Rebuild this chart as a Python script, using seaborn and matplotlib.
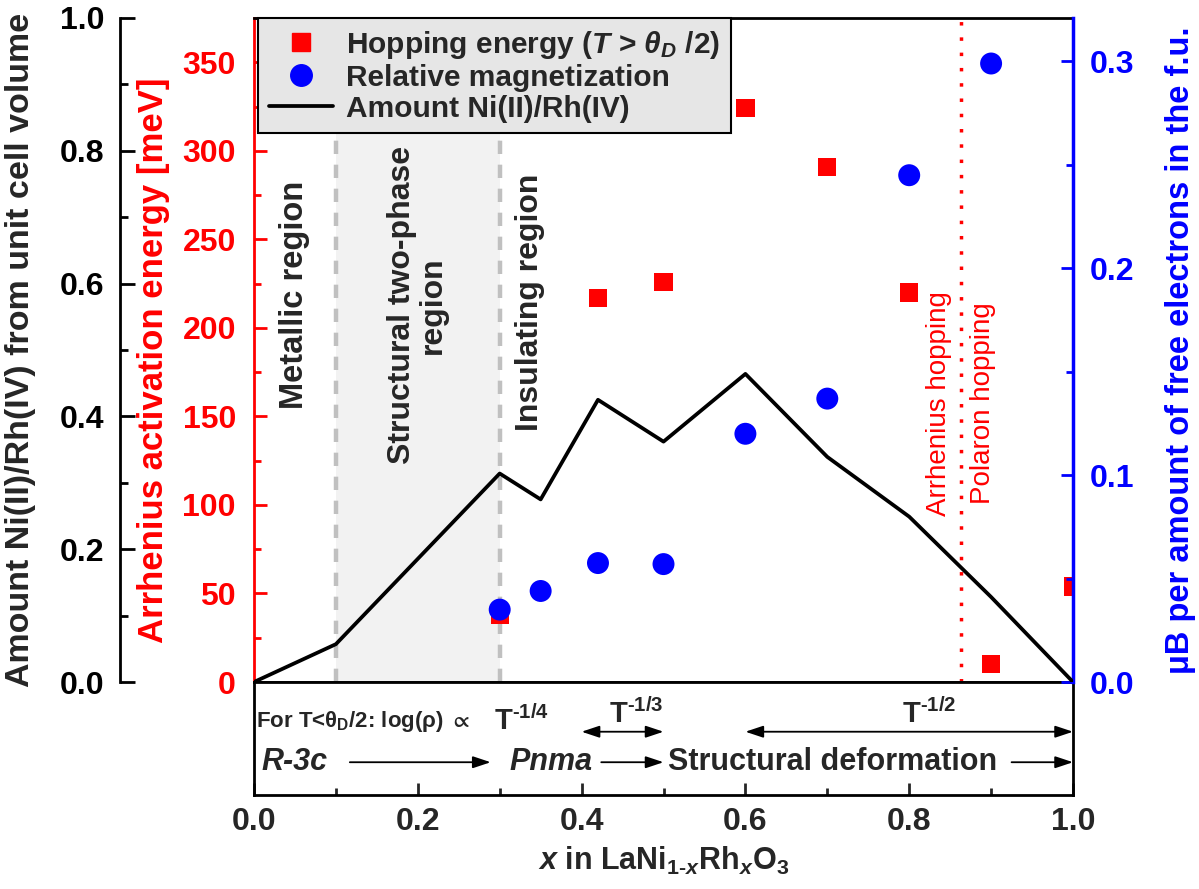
import matplotlib
matplotlib.use("Agg")
import matplotlib.pyplot as plt
from matplotlib.ticker import MultipleLocator
from matplotlib.lines import Line2D
import seaborn as sns

# Ni(II)/Rh(IV) amount from unit cell volume (left black axis)
x_amount = [0.0, 0.1, 0.3, 0.35, 0.42, 0.5, 0.6, 0.7, 0.8, 0.9, 1.0]
amount = [0.0, 0.057, 0.314, 0.275, 0.425, 0.362, 0.464, 0.339, 0.249, 0.128, 0.0]

# hopping (Arrhenius activation) energy in meV (red axis)
x_hop = [0.3, 0.42, 0.5, 0.6, 0.7, 0.8, 0.9, 1.0]
hop_energy = [38, 217, 226, 324, 291, 220, 10, 54]

# relative magnetization (blue axis)
x_mag = [0.3, 0.35, 0.42, 0.5, 0.6, 0.7, 0.8, 0.9]
magnetization = [0.035, 0.044, 0.0575, 0.057, 0.120, 0.137, 0.245, 0.299]

xtick_labels = ["0.0", "0.2", "0.4", "0.6", "0.8", "1.0"]

sns.set_theme(style="ticks")
plt.rcParams["font.family"] = ["Liberation Sans", "DejaVu Sans"]
plt.rcParams["font.weight"] = "bold"
plt.rcParams["mathtext.fontset"] = "custom"
plt.rcParams["mathtext.rm"] = "Liberation Sans:bold"
plt.rcParams["mathtext.bf"] = "Liberation Sans:bold"
plt.rcParams["mathtext.it"] = "Liberation Sans:italic:bold"
plt.rcParams["mathtext.fallback"] = "stixsans"

W, H = 1199, 889
fig = plt.figure(figsize=(W / 100, H / 100), dpi=100)
left = 254 / W
width = 819 / W
ax = fig.add_axes([left, (H - 682) / H, width, 664 / H])
axb = fig.add_axes([left, (H - 795) / H, width, 113 / H])
ax_blue = ax.twinx()
ax_black = ax.twinx()

# background regions and guide lines
ax.axvspan(0.1, 0.3, facecolor="#f2f2f2", edgecolor="none", zorder=0)
for xv in [0.1, 0.3]:
    ax.axvline(xv, color="#c0c0c0", lw=3.2, ls=(0, (3.0, 2.4)), zorder=1)
ax.axvline(0.863, color="red", lw=2.5, ls=(0, (1, 3.4)), zorder=1)

# data
sns.scatterplot(x=x_hop, y=hop_energy, ax=ax, marker="s", s=175, color="red",
                edgecolor="none", zorder=3)
sns.scatterplot(x=x_mag, y=magnetization, ax=ax_blue, marker="o", s=250,
                color="blue", edgecolor="none", zorder=3)
sns.lineplot(x=x_amount, y=amount, ax=ax_black, color="black", lw=2.7)

ax.set_xlim(0, 1)
ax.set_ylim(0, 375)
ax_blue.set_ylim(0, 0.321)
ax_black.set_ylim(0, 1)

TICK_FS = 23

# red axis (main left spine)
ax.yaxis.set_major_locator(MultipleLocator(50))
ax.yaxis.set_minor_locator(MultipleLocator(25))
ax.tick_params(axis="y", which="both", direction="in", colors="red", width=2,
               labelsize=TICK_FS, pad=13)
ax.tick_params(axis="y", which="major", length=9)
ax.tick_params(axis="y", which="minor", length=5)
ax.tick_params(axis="x", which="both", bottom=False, labelbottom=False)
for lab in ax.get_yticklabels():
    lab.set_fontweight("bold")
ax.spines["left"].set_color("red")
ax.spines["left"].set_linewidth(2)
ax.spines["right"].set_visible(False)
ax.spines["top"].set_color("black")
ax.spines["top"].set_linewidth(2)
ax.spines["bottom"].set_color("black")
ax.spines["bottom"].set_linewidth(2)
ax.set_ylabel("Arrhenius activation energy [meV]", color="red", fontsize=25,
              fontweight="bold")
ax.yaxis.set_label_coords(-0.103, 0.485)

# blue axis (right)
ax_blue.yaxis.set_major_locator(MultipleLocator(0.1))
ax_blue.yaxis.set_minor_locator(MultipleLocator(0.05))
ax_blue.tick_params(axis="y", which="both", direction="in", colors="blue",
                    width=2, labelsize=TICK_FS, pad=12)
ax_blue.tick_params(axis="y", which="major", length=9)
ax_blue.tick_params(axis="y", which="minor", length=5)
for s in ["left", "top", "bottom"]:
    ax_blue.spines[s].set_visible(False)
ax_blue.spines["right"].set_color("blue")
ax_blue.spines["right"].set_linewidth(2.5)
ax_blue.set_ylabel("\u03bcB per amount of free electrons in the f.u.",
                   color="blue", fontsize=23.5, fontweight="bold")
ax_blue.yaxis.set_label_coords(1.112, 0.5)

# black axis (offset left)
ax_black.yaxis.set_ticks_position("left")
ax_black.yaxis.set_label_position("left")
for s in ["right", "top", "bottom"]:
    ax_black.spines[s].set_visible(False)
ax_black.spines["left"].set_visible(True)
ax_black.spines["left"].set_position(("axes", -134 / 819))
ax_black.spines["left"].set_linewidth(2)
ax_black.spines["left"].set_color("black")
ax_black.yaxis.set_major_locator(MultipleLocator(0.2))
ax_black.yaxis.set_minor_locator(MultipleLocator(0.1))
ax_black.tick_params(axis="y", which="both", direction="in", colors="black",
                     width=2, labelsize=TICK_FS, pad=11)
ax_black.tick_params(axis="y", which="major", length=11)
ax_black.tick_params(axis="y", which="minor", length=6)
ax_black.set_ylabel("Amount Ni(II)/Rh(IV) from unit cell volume", fontsize=24.5,
                    fontweight="bold")
ax_black.yaxis.set_label_coords(-0.266, 0.5)

# region annotations
tr = ax.get_xaxis_transform()
ax.text(0.05, 0.583, "Metallic region", transform=tr, rotation=90, ha="center",
        va="center", fontsize=23.5, fontweight="bold", zorder=4)
ax.text(0.2, 0.568, "Structural two-phase\nregion", transform=tr, rotation=90,
        ha="center", va="center", multialignment="center", linespacing=1.05,
        fontsize=23, fontweight="bold", zorder=4)
ax.text(0.337, 0.572, "Insulating region", transform=tr, rotation=90,
        ha="center", va="center", fontsize=23, fontweight="bold", zorder=4)
ax.text(0.836, 0.42, "Arrhenius hopping", transform=tr, rotation=90,
        ha="center", va="center", fontsize=20, fontweight="normal",
        color="red", zorder=4)
ax.text(0.89, 0.42, "Polaron hopping", transform=tr, rotation=90,
        ha="center", va="center", fontsize=20, fontweight="normal",
        color="red", zorder=4)

# legend
handles = [
    Line2D([], [], marker="s", ls="none", color="red", ms=13),
    Line2D([], [], marker="o", ls="none", color="blue", ms=15.5),
    Line2D([], [], color="black", lw=2.7),
]
labels = [r"Hopping energy ($T$ > $\theta_D$ /2)", "Relative magnetization",
          "Amount Ni(II)/Rh(IV)"]
leg = ax_black.legend(handles, labels, loc="upper left",
                      bbox_to_anchor=(0.005, 1.0), borderaxespad=0,
                      frameon=True, fancybox=False, framealpha=1,
                      facecolor="#e6e6e6", edgecolor="black",
                      prop={"weight": "bold", "size": 21.5}, handlelength=2.15,
                      labelspacing=0.1, borderpad=0.36, handletextpad=0.45)
leg.get_frame().set_linewidth(1.5)

# lower panel with conduction / structure notes
axb.set_xlim(0, 1)
axb.set_ylim(0, 1)
axb.set_yticks([])
axb.xaxis.set_minor_locator(MultipleLocator(0.1))
axb.set_xticks([0, 0.2, 0.4, 0.6, 0.8, 1.0])
axb.set_xticklabels(xtick_labels, fontweight="bold")
axb.tick_params(axis="x", which="both", direction="in", width=2, labelsize=23,
                pad=9, top=False)
axb.tick_params(axis="x", which="major", length=9)
axb.tick_params(axis="x", which="minor", length=5)
for s in axb.spines.values():
    s.set_color("black")
    s.set_linewidth(2)
axb.set_xlabel(r"$x$ in LaNi$_{1\text{-}x}$Rh$_x$O$_3$", fontsize=22,
               fontweight="bold", labelpad=5)

axb.text(0.003, 0.65, "For T<\u03b8$_\\mathrm{D}$/2: log(\u03c1) $\\propto$",
         ha="left", va="center", fontsize=16, fontweight="bold")
axb.text(0.293, 0.66, r"T$^{\text{-1/4}}$", ha="left", va="center", fontsize=21,
         fontweight="bold")
axb.text(0.467, 0.72, r"T$^{\text{-1/3}}$", ha="center", va="center",
         fontsize=21, fontweight="bold")
axb.text(0.825, 0.72, r"T$^{\text{-1/2}}$", ha="center", va="center",
         fontsize=21, fontweight="bold")
dbl = dict(arrowstyle="<|-|>,head_length=0.6,head_width=0.2", color="black",
           lw=1.3, mutation_scale=18, shrinkA=0, shrinkB=0)
one = dict(arrowstyle="-|>,head_length=0.6,head_width=0.2", color="black",
           lw=1.3, mutation_scale=18, shrinkA=0, shrinkB=0)
axb.annotate("", xy=(0.5, 0.56), xytext=(0.4, 0.56), arrowprops=dbl,
             annotation_clip=False)
axb.annotate("", xy=(1.0, 0.56), xytext=(0.6, 0.56), arrowprops=dbl,
             annotation_clip=False)

axb.text(0.009, 0.29, "R-3c", ha="left", va="center", fontsize=22,
         fontweight="bold", fontstyle="italic")
axb.annotate("", xy=(0.289, 0.29), xytext=(0.117, 0.29), arrowprops=one)
axb.text(0.312, 0.29, "Pnma", ha="left", va="center", fontsize=22,
         fontweight="bold", fontstyle="italic")
axb.annotate("", xy=(0.5, 0.29), xytext=(0.424, 0.29), arrowprops=one)
axb.text(0.506, 0.29, "Structural deformation", ha="left", va="center",
         fontsize=22, fontweight="bold")
axb.annotate("", xy=(1.0, 0.29), xytext=(0.925, 0.29), arrowprops=one,
             annotation_clip=False)

fig.savefig("out.png", dpi=100)
